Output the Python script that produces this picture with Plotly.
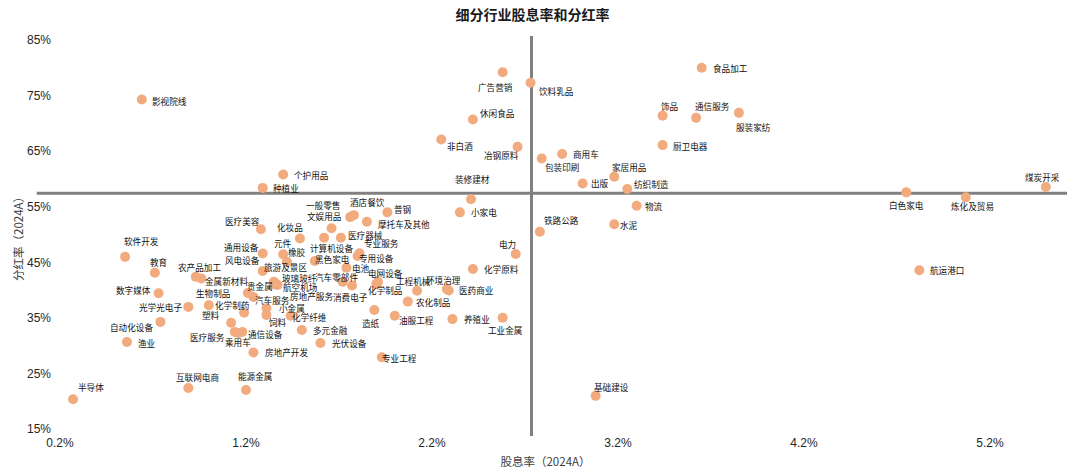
import plotly.graph_objects as go

# ---------------- data ----------------
industries = [
    "影视院线", "个护用品", "种植业", "广告营销", "饮料乳品", "休闲食品", "非白酒", "冶钢原料",
    "包装印刷", "商用车", "家居用品", "出版", "纺织制造", "装修建材", "小家电", "物流",
    "水泥", "铁路公路", "饰品", "通信服务", "厨卫电器", "食品加工", "服装家纺", "白色家电",
    "炼化及贸易", "煤炭开采", "航运港口", "基础建设", "半导体", "互联网电商", "能源金属", "渔业",
    "软件开发", "教育", "数字媒体", "光学光电子", "自动化设备", "农产品加工", "金属新材料", "生物制品",
    "化学制药", "塑料", "医疗服务", "乘用车", "通信设备", "医疗美容", "化妆品", "元件",
    "橡胶", "通用设备", "风电设备", "旅游及景区", "玻璃玻纤", "航空机场", "房地产服务", "贵金属",
    "汽车服务", "小金属", "饲料", "化学纤维", "多元金融", "光伏设备", "房地产开发", "专业工程",
    "造纸", "油服工程", "养殖业", "工业金属", "农化制品", "工程机械", "环境治理", "医药商业",
    "化学原料", "电力", "电网设备", "化学制品", "汽车零部件", "消费电子", "电池", "专业服务",
    "专用设备", "黑色家电", "计算机设备", "医疗器械", "文娱用品", "一般零售", "酒店餐饮", "普钢",
    "摩托车及其他",
]

dividend_yield = [  # 股息率 2024A, %
    0.64, 1.40, 1.29, 2.58, 2.73, 2.42, 2.25, 2.66,
    2.79, 2.90, 3.18, 3.01, 3.25, 2.41, 2.35, 3.30,
    3.18, 2.78, 3.44, 3.62, 3.44, 3.65, 3.85, 4.75,
    5.07, 5.50, 4.82, 3.08, 0.27, 0.89, 1.20, 0.56,
    0.55, 0.71, 0.73, 0.89, 0.74, 0.93, 0.96, 1.00,
    1.19, 1.12, 1.14, 1.16, 1.18, 1.28, 1.49, 1.40,
    1.42, 1.29, 1.29, 1.35, 1.36, 1.37, 1.36, 1.21,
    1.24, 1.31, 1.31, 1.44, 1.50, 1.60, 1.24, 1.93,
    1.89, 2.00, 2.31, 2.58, 2.07, 2.12, 2.28, 2.29,
    2.42, 2.65, 1.91, 1.90, 1.72, 1.77, 1.74, 1.81,
    1.80, 1.57, 1.62, 1.71, 1.66, 1.76, 1.78, 1.96,
    1.85,
]

payout_ratio = [  # 分红率 2024A, %
    74.3, 60.8, 58.4, 79.2, 77.3, 70.7, 67.1, 65.8,
    63.7, 64.5, 60.4, 59.2, 58.2, 56.35, 54.0, 55.2,
    51.85, 50.5, 71.4, 71.0, 66.1, 80.0, 71.9, 57.6,
    56.7, 58.55, 43.6, 21.0, 20.4, 22.4, 22.05, 30.7,
    46.0, 43.15, 39.45, 37.0, 34.3, 42.4, 42.1, 37.3,
    35.95, 34.15, 32.5, 32.3, 32.5, 50.95, 49.3, 46.45,
    45.1, 46.6, 43.45, 41.5, 41.2, 40.95, 41.0, 39.5,
    38.8, 36.75, 35.55, 35.4, 32.85, 30.5, 28.8, 27.95,
    36.45, 35.4, 34.8, 35.05, 37.95, 39.9, 40.2, 39.95,
    43.8, 46.5, 41.5, 41.1, 41.5, 40.85, 44.05, 46.65,
    46.15, 45.25, 49.45, 49.45, 51.15, 53.15, 53.5, 54.0,
    52.3,
]

avg_yield = 2.735     # vertical reference line (股息率)
avg_payout = 57.43    # horizontal reference line (分红率)

x_ticks = [0.2, 1.2, 2.2, 3.2, 4.2, 5.2]
y_ticks = [15, 25, 35, 45, 55, 65, 75, 85]
x_ticktext = [f"{v:.1f}%" for v in x_ticks]
y_ticktext = [f"{v}%" for v in y_ticks]

# ---------------- label placement (pixel offsets of label centre from point) ----------------
label_offsets = {
    "影视院线": (28, 1), "个护用品": (28, 0), "种植业": (23, 0), "广告营销": (-7, 15),
    "饮料乳品": (25, 8), "休闲食品": (24, -7), "非白酒": (19, 6), "冶钢原料": (-16, 8),
    "包装印刷": (20, 9), "商用车": (24, 0), "家居用品": (15, -10), "出版": (17, 0),
    "纺织制造": (24, -5), "装修建材": (1, -20), "小家电": (24, 0), "物流": (17, 0),
    "水泥": (15, 1), "铁路公路": (22, -12), "饰品": (7, -10), "通信服务": (16, -12),
    "厨卫电器": (28, 1), "食品加工": (29, 0), "服装家纺": (15, 14), "白色家电": (0, 13),
    "炼化及贸易": (7, 9), "煤炭开采": (-3, -10), "航运港口": (28, 0), "基础建设": (16, -9),
    "半导体": (18, -12), "互联网电商": (9, -11), "能源金属": (9, -14), "渔业": (20, 1),
    "软件开发": (16, -16), "教育": (4, -11), "数字媒体": (-25, -3), "光学光电子": (-28, 0),
    "自动化设备": (-29, 5), "农产品加工": (4, -10), "金属新材料": (25, 2), "生物制品": (4, -12),
    "化学制药": (-12, -8), "塑料": (-20, -8), "医疗服务": (-27, 5), "乘用车": (-1, 9),
    "通信设备": (23, 2), "医疗美容": (-18, -8), "化妆品": (-10, -12), "元件": (0, -11),
    "橡胶": (10, -10), "通用设备": (-21, -7), "风电设备": (-20, -11), "旅游及景区": (12, -15),
    "玻璃玻纤": (24, -6), "航空机场": (23, 2), "房地产服务": (36, 11), "贵金属": (12, -7),
    "汽车服务": (19, 3), "小金属": (26, 0), "饲料": (12, 7), "化学纤维": (19, 1),
    "多元金融": (29, 0), "光伏设备": (29, 0), "房地产开发": (33, 0), "专业工程": (18, 1),
    "造纸": (-3, 13), "油服工程": (22, 4), "养殖业": (25, 0), "工业金属": (2, 12),
    "农化制品": (25, 0), "工程机械": (-4, -10), "环境治理": (-3, -9), "医药商业": (28, 0),
    "化学原料": (29, 0), "电力": (-8, -10), "电网设备": (7, -9), "化学制品": (9, 6),
    "汽车零部件": (-6, -5), "消费电子": (-2, 12), "电池": (15, 0), "专业服务": (22, -10),
    "专用设备": (19, 2), "黑色家电": (18, -2), "计算机设备": (7, 10), "医疗器械": (25, -3),
    "文娱用品": (-8, -12), "一般零售": (-27, -12), "酒店餐饮": (14, -13), "普钢": (15, -3),
    "摩托车及其他": (37, 2),
}

CJK = "Noto Sans CJK SC"
LAT = "Liberation Sans, Arial, sans-serif"

fig = go.Figure()
fig.add_trace(go.Scatter(
    x=dividend_yield, y=payout_ratio, mode="markers",
    marker=dict(size=10, color="#F2AB7F", line=dict(width=0)),
    text=industries, hoverinfo="text", showlegend=False,
))

annotations = []
for name, xv, yv in zip(industries, dividend_yield, payout_ratio):
    dx, dy = label_offsets.get(name, (25, 0))
    annotations.append(dict(
        x=xv, y=yv, xref="x", yref="y", text=name, showarrow=False,
        xshift=dx, yshift=-dy, xanchor="center", yanchor="middle",
        font=dict(family=CJK, size=8.6, color="#111111"),
    ))

# plot area: left 24px, right 1067px, top 20px, bottom 452px
x_min, x_max = 0.0065, 5.614
y_min, y_max = 10.9, 88.6
line_x0, line_y0, line_y1 = 0.075, 13.78, 85.72

shapes = [
    dict(type="line", xref="x", yref="y", x0=line_x0, x1=x_max, y0=avg_payout, y1=avg_payout,
         line=dict(color="#808080", width=3), layer="below"),
    dict(type="line", xref="x", yref="y", x0=avg_yield, x1=avg_yield, y0=line_y0, y1=line_y1,
         line=dict(color="#808080", width=3), layer="below"),
]

fig.update_layout(
    width=1080, height=473, autosize=False,
    margin=dict(l=24, r=13, t=20, b=21),
    paper_bgcolor="white", plot_bgcolor="white",
    title=dict(text="<b>细分行业股息率和分红率</b>", x=0.493, xanchor="center",
               y=1 - 15 / 473, yanchor="middle", yref="container",
               font=dict(family=CJK, size=14, color="#1a1a1a")),
    annotations=annotations,
    shapes=shapes,
    xaxis=dict(range=[x_min, x_max], tickvals=x_ticks, ticktext=x_ticktext,
               showgrid=False, zeroline=False, showline=False, ticks="",
               ticklabelposition="inside", automargin=False,
               tickfont=dict(family=LAT, size=12, color="#262626"),
               title=dict(text="股息率（2024A）", font=dict(family=CJK, size=11.5, color="#404040"),
                          standoff=9)),
    yaxis=dict(range=[y_min, y_max], tickvals=y_ticks, ticktext=y_ticktext,
               showgrid=False, zeroline=False, showline=False, ticks="",
               ticklabelposition="inside", automargin=False,
               tickfont=dict(family=LAT, size=12, color="#262626"),
               title=dict(text="分红率（2024A）", font=dict(family=CJK, size=11.5, color="#404040"),
                          standoff=0)),
)

fig.write_html("out.html", config={"displayModeBar": False},
               post_script="document.body.style.margin='0';")
